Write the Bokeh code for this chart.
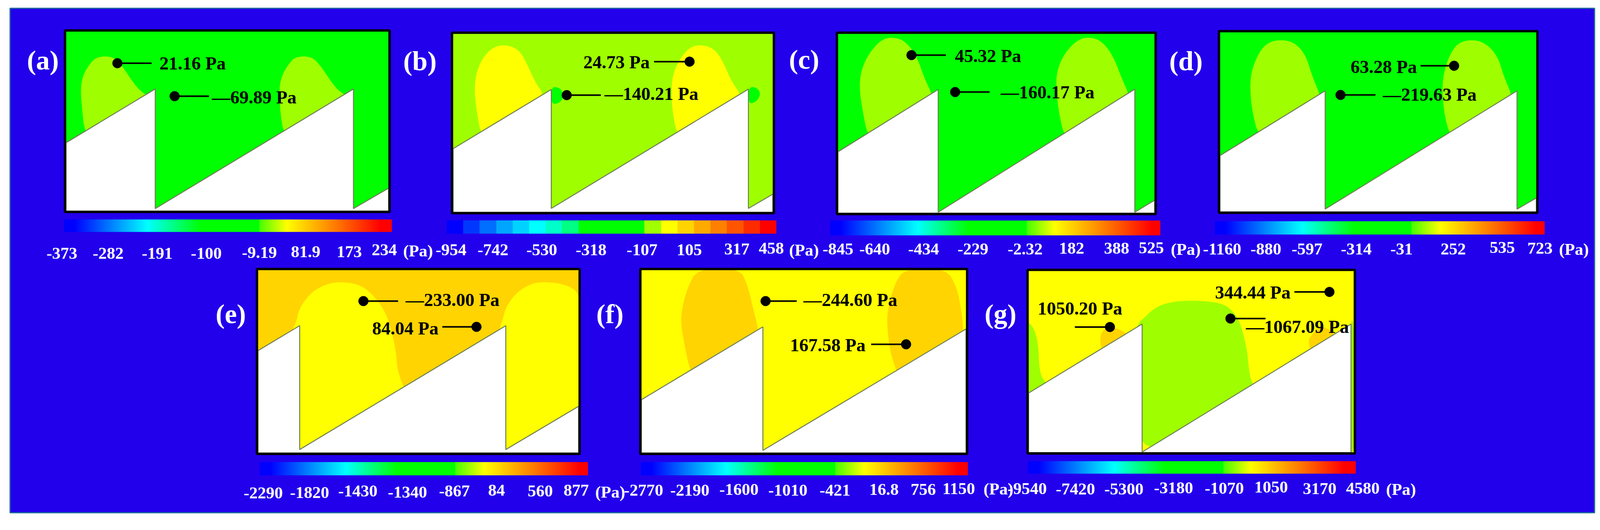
import numpy as np
from bokeh.embed import file_html
from bokeh.models import ColorBar, FixedTicker, LinearColorMapper, Range1d
from bokeh.plotting import figure
from bokeh.resources import INLINE

# contour outlines and label spots were traced off enlarged crops of the figure,
# every crop is 1568 x 1568 units, CROP_* = (left, top, width, height) in picture pixels
CROP_A = (0, 0, 1200, 700)
CROP_B = (1150, 0, 1100, 700)
CROP_C = (2150, 0, 1100, 700)
CROP_D = (3180, 0, 1197, 700)
CROP_E = (600, 680, 1100, 678)
CROP_F = (1600, 680, 1150, 678)
CROP_G = (2700, 680, 1200, 678)

GREEN = "#00ff00"
LIME = "#9fff00"
YELLOW = "#ffff00"
AMBER = "#ffd400"
BLUE = "#2200ec"

PANEL_NAMES = ["(a)", "(b)", "(c)", "(d)", "(e)", "(f)", "(g)"]
NAME_X = [73, 1100, 2153, 3191, 588, 1627, 2687]
NAME_Y = [156, 158, 154, 158, 816, 816, 816]

# (a)
A_BOX = (235, 1385, 182, 1228)
A_WALL_X = [235, 553, 553, 1260, 1260, 1385, 1385, 235]
A_WALL_Y = [830, 517, 1214, 517, 1214, 1095, 1228, 1228]
A_LOBES = [
    (LIME, [345, 405, 440, 470, 500, 530, 545, 380, 302, 290, 287, 295, 315], [328, 328, 395, 470, 530, 560, 700, 900, 790, 600, 510, 440, 380]),
    (LIME, [1053, 1113, 1148, 1178, 1208, 1240, 1252, 1090, 1012, 998, 995, 1005, 1025], [328, 328, 395, 470, 530, 560, 700, 900, 790, 640, 510, 440, 380]),
]
A_LABELS = ["21.16 Pa", "\u201469.89 Pa"]
A_LABEL_X = [568, 755]
A_LABEL_Y = [367, 565]
A_PROBE_X = [418, 622]
A_PROBE_Y = [367, 559]
A_LEAD_X = [540, 745]
A_TICKS = ["-373", "-282", "-191", "-100", "-9.19", "81.9", "173", "234", "(Pa)"]
A_TICK_X = [165, 330, 505, 680, 862, 1037, 1200, 1325, 1437]
A_TICK_Y = [1475, 1475, 1475, 1475, 1470, 1465, 1465, 1455, 1460]
A_BAR = (228, 1398, 1275, 1350)
A_STOPS = [0.254, 0.42, 0.595, 0.68, 0.967]

# (b)
B_BOX = (123, 1367, 195, 1235)
B_WALL_X = [123, 505, 505, 1272, 1272, 1367, 1367, 123]
B_WALL_Y = [865, 520, 1213, 518, 1213, 1130, 1235, 1235]
B_LOBES = [
    (YELLOW, [290, 345, 385, 410, 440, 475, 498, 300, 232, 215, 205, 215, 245], [263, 263, 300, 370, 470, 550, 700, 900, 790, 650, 520, 410, 320]),
    (YELLOW, [1055, 1110, 1150, 1180, 1205, 1245, 1265, 1060, 995, 975, 972, 985, 1015], [263, 263, 300, 380, 470, 555, 700, 900, 790, 640, 490, 400, 320]),
    (GREEN, [505, 535, 550, 552, 535, 505], [505, 508, 535, 570, 600, 607]),
    (GREEN, [1272, 1305, 1320, 1305, 1272], [505, 508, 545, 590, 607]),
]
B_LABELS = ["\u2014140.21 Pa", "24.73 Pa"]
B_LABEL_X = [712, 630]
B_LABEL_Y = [545, 360]
B_PROBE_X = [565, 1043]
B_PROBE_Y = [553, 358]
B_LEAD_X = [698, 905]
B_TICKS = ["-954", "-742", "-530", "-318", "-107", "105", "317", "458", "(Pa)"]
B_TICK_X = [55, 218, 408, 600, 798, 993, 1178, 1312, 1430]
B_TICK_Y = [1455, 1455, 1455, 1455, 1455, 1455, 1450, 1445, 1455]
B_BAR = (98, 1382, 1282, 1360)
B_BANDS = ["#0000ff", "#0037ff", "#006eff", "#00a5ff", "#00d2ff", "#00ffff", "#00ffc8", "#00ff82",
           "#00ff00", "#00ff00", "#00ff00", "#00ff00", "#a0ff00", "#ffff00", "#ffd400", "#ffaa00",
           "#ff8000", "#ff5500", "#ff2b00", "#ff0000"]

# (c)
C_BOX = (195, 1427, 195, 1240)
C_WALL_X = [195, 585, 585, 1350, 1350, 1427, 1427, 195]
C_WALL_Y = [883, 520, 1235, 518, 1235, 1165, 1240, 1240]
C_LOBES = [
    (LIME, [370, 430, 470, 505, 530, 565, 578, 380, 312, 290, 278, 285, 315], [220, 218, 260, 340, 450, 560, 700, 900, 800, 640, 510, 410, 310]),
    (LIME, [1135, 1195, 1235, 1270, 1295, 1330, 1343, 1140, 1077, 1055, 1045, 1045, 1075], [220, 218, 260, 340, 440, 560, 700, 900, 800, 660, 530, 420, 310]),
]
C_LABELS = ["45.32 Pa", "\u2014160.17 Pa"]
C_LABEL_X = [650, 828]
C_LABEL_Y = [325, 535]
C_PROBE_X = [481, 651]
C_PROBE_Y = [320, 535]
C_LEAD_X = [615, 785]
C_TICKS = ["-845", "-640", "-434", "-229", "-2.32", "182", "388", "525", "(Pa)"]
C_TICK_X = [135, 278, 468, 660, 855, 1055, 1230, 1365, 1490]
C_TICK_Y = [1450, 1450, 1450, 1450, 1450, 1445, 1445, 1442, 1450]
C_BAR = (165, 1450, 1282, 1370)
C_STOPS = [0.265, 0.42, 0.595, 0.68, 0.977]

# (d)
D_BOX = (196, 1327, 186, 1233)
D_WALL_X = [196, 572, 572, 1258, 1258, 1327, 1327, 196]
D_WALL_Y = [905, 528, 1217, 528, 1217, 1152, 1233, 1233]
D_LOBES = [
    (LIME, [375, 425, 470, 505, 525, 555, 565, 400, 333, 310, 303, 310, 340], [240, 230, 255, 330, 440, 555, 700, 900, 790, 640, 500, 400, 290]),
    (LIME, [1060, 1105, 1150, 1190, 1210, 1240, 1250, 1080, 1018, 995, 990, 1005, 1030], [240, 230, 255, 330, 440, 555, 700, 900, 795, 640, 480, 370, 280]),
]
D_LABELS = ["63.28 Pa", "\u2014219.63 Pa"]
D_LABEL_X = [663, 778]
D_LABEL_Y = [388, 550]
D_PROBE_X = [1033, 627]
D_PROBE_Y = [382, 552]
D_LEAD_X = [913, 752]
D_TICKS = ["-1160", "-880", "-597", "-314", "-31", "252", "535", "723", "(Pa)"]
D_TICK_X = [135, 305, 452, 628, 805, 985, 1160, 1295, 1408]
D_TICK_Y = [1450, 1450, 1450, 1450, 1450, 1450, 1440, 1445, 1450]
D_BAR = (178, 1358, 1287, 1365)
D_STOPS = [0.264, 0.425, 0.595, 0.684, 0.976]

# (e)
E_BOX = (148, 1395, 50, 1150)
E_WALL_X = [148, 310, 310, 1112, 1112, 1395, 1395, 148]
E_WALL_Y = [535, 385, 1130, 385, 1130, 870, 1150, 1150]
E_LOBES = [
    (YELLOW, [460, 540, 590, 640, 665, 685, 690, 715, 760, 400, 250, 250, 298, 305, 350, 405], [120, 135, 190, 290, 400, 540, 650, 760, 900, 1140, 1140, 500, 365, 290, 190, 140]),
    (YELLOW, [1260, 1340, 1395, 1405, 1405, 1200, 1060, 1060, 1098, 1110, 1150, 1205], [120, 135, 180, 300, 1140, 1140, 1140, 500, 365, 280, 190, 135]),
]
E_LABELS = ["\u2014233.00 Pa", "84.04 Pa"]
E_LABEL_X = [722, 592]
E_LABEL_Y = [228, 400]
E_PROBE_X = [558, 998]
E_PROBE_Y = [237, 392]
E_LEAD_X = [693, 865]
E_TICKS = ["-2290", "-1820", "-1430", "-1340", "-867", "84", "560", "877", "(Pa)"]
E_TICK_X = [92, 272, 460, 653, 852, 1043, 1197, 1337, 1460]
E_TICK_Y = [1390, 1388, 1380, 1385, 1380, 1375, 1380, 1375, 1385]
E_BAR = (155, 1432, 1205, 1285)
E_STOPS = [0.262, 0.42, 0.595, 0.685, 0.975]

# (f)
F_BOX = (205, 1413, 50, 1150)
F_WALL_X = [205, 657, 657, 1413, 1413, 205]
F_WALL_Y = [830, 392, 1135, 405, 1150, 1150]
F_LOBES = [
    (AMBER, [415, 570, 600, 622, 640, 650, 460, 385, 370, 352, 355, 375], [40, 40, 140, 290, 405, 600, 900, 650, 540, 380, 290, 160]),
    (AMBER, [1185, 1340, 1380, 1395, 1405, 1405, 1200, 1155, 1130, 1120, 1120, 1145], [40, 40, 160, 290, 420, 900, 900, 660, 540, 400, 300, 140]),
]
F_LABELS = ["\u2014244.60 Pa", "167.58 Pa"]
F_LABEL_X = [808, 758]
F_LABEL_Y = [228, 500]
F_PROBE_X = [667, 1190]
F_PROBE_Y = [237, 497]
F_LEAD_X = [783, 1060]
F_TICKS = ["-2770", "-2190", "-1600", "-1010", "-421", "16.8", "756", "1150", "(Pa)"]
F_TICK_X = [140, 312, 495, 677, 868, 1053, 1207, 1325, 1478]
F_TICK_Y = [1375, 1375, 1370, 1375, 1375, 1370, 1370, 1365, 1365]
F_BAR = (203, 1420, 1205, 1285)
F_STOPS = [0.26, 0.42, 0.593, 0.683, 0.97]

# (g)
G_BOX = (140, 1300, 55, 1148)
G_WALL_X = [140, 545, 545, 1290, 1290, 140]
G_WALL_Y = [790, 375, 1145, 375, 1148, 1148]
G_LOBES = [
    (LIME, [545, 590, 650, 740, 830, 865, 890, 905, 920, 925, 935, 1000, 800, 500, 500, 535], [350, 275, 240, 232, 250, 290, 350, 430, 540, 640, 730, 900, 1140, 1140, 500, 360]),
    (LIME, [130, 160, 175, 178, 195, 260, 130], [350, 400, 500, 650, 725, 800, 900]),
    (LIME, [1302, 1285, 1285, 1302], [335, 380, 1160, 1160]),
    (AMBER, [400, 430, 470, 520, 450, 400, 395], [420, 390, 410, 470, 560, 530, 470]),
    (AMBER, [1150, 1185, 1240, 1260, 1180, 1143, 1138], [440, 380, 440, 600, 600, 530, 470]),
]
G_LABELS = ["1050.20 Pa", "344.44 Pa", "\u20141067.09 Pa"]
G_LABEL_X = [172, 805, 915]
G_LABEL_Y = [280, 185, 392]
G_PROBE_X = [430, 1213, 860]
G_PROBE_Y = [393, 182, 342]
G_LEAD_X = [305, 1088, 985]
G_TICKS = ["-9540", "-7420", "-5300", "-3180", "-1070", "1050", "3170", "4580", "(Pa)"]
G_TICK_X = [65, 237, 410, 587, 768, 945, 1118, 1272, 1415]
G_TICK_Y = [1365, 1368, 1368, 1360, 1362, 1355, 1365, 1362, 1368]
G_BAR = (138, 1308, 1198, 1275)
G_STOPS = [0.262, 0.42, 0.596, 0.68, 0.967]

PANELS = [
    (CROP_A, A_BOX, GREEN, A_WALL_X, A_WALL_Y, A_LOBES, A_LABELS, A_LABEL_X, A_LABEL_Y, A_PROBE_X, A_PROBE_Y, A_LEAD_X, A_TICKS, A_TICK_X, A_TICK_Y, A_BAR, A_STOPS),
    (CROP_B, B_BOX, LIME, B_WALL_X, B_WALL_Y, B_LOBES, B_LABELS, B_LABEL_X, B_LABEL_Y, B_PROBE_X, B_PROBE_Y, B_LEAD_X, B_TICKS, B_TICK_X, B_TICK_Y, B_BAR, None),
    (CROP_C, C_BOX, GREEN, C_WALL_X, C_WALL_Y, C_LOBES, C_LABELS, C_LABEL_X, C_LABEL_Y, C_PROBE_X, C_PROBE_Y, C_LEAD_X, C_TICKS, C_TICK_X, C_TICK_Y, C_BAR, C_STOPS),
    (CROP_D, D_BOX, GREEN, D_WALL_X, D_WALL_Y, D_LOBES, D_LABELS, D_LABEL_X, D_LABEL_Y, D_PROBE_X, D_PROBE_Y, D_LEAD_X, D_TICKS, D_TICK_X, D_TICK_Y, D_BAR, D_STOPS),
    (CROP_E, E_BOX, AMBER, E_WALL_X, E_WALL_Y, E_LOBES, E_LABELS, E_LABEL_X, E_LABEL_Y, E_PROBE_X, E_PROBE_Y, E_LEAD_X, E_TICKS, E_TICK_X, E_TICK_Y, E_BAR, E_STOPS),
    (CROP_F, F_BOX, YELLOW, F_WALL_X, F_WALL_Y, F_LOBES, F_LABELS, F_LABEL_X, F_LABEL_Y, F_PROBE_X, F_PROBE_Y, F_LEAD_X, F_TICKS, F_TICK_X, F_TICK_Y, F_BAR, F_STOPS),
    (CROP_G, G_BOX, YELLOW, G_WALL_X, G_WALL_Y, G_LOBES, G_LABELS, G_LABEL_X, G_LABEL_Y, G_PROBE_X, G_PROBE_Y, G_LEAD_X, G_TICKS, G_TICK_X, G_TICK_Y, G_BAR, G_STOPS),
]

# the browser only shows this much of the window, so the whole traced picture is fitted into it
REF_W = 4377
REF_H = 1358
PAGE_W = 4105
PAGE_H = 1338


def crop_x(xs, crop):
    return [crop[0] + x * crop[2] / 1568 for x in xs]


def crop_y(ys, crop):
    return [crop[1] + y * crop[3] / 1568 for y in ys]


def round_off(xs, ys, passes=2):
    """corner cutting, the traced contours are smooth curves in the original"""
    xs, ys = np.array(xs, float), np.array(ys, float)
    for _ in range(passes):
        nx, ny = np.roll(xs, -1), np.roll(ys, -1)
        xs = np.column_stack([0.75 * xs + 0.25 * nx, 0.25 * xs + 0.75 * nx]).ravel()
        ys = np.column_stack([0.75 * ys + 0.25 * ny, 0.25 * ys + 0.75 * ny]).ravel()
    return xs.tolist(), ys.tolist()


def bar_palette(stops):
    """rainbow of the solver's legend, with the flat green stretch and the step after it"""
    cyan, green, flat_end, yellow, red = stops
    pos = [0, 0.03, cyan, green, flat_end, flat_end + 0.001, yellow, red, 1]
    reds = [0, 0, 0, 0, 0, 70, 255, 255, 255]
    greens = [0, 0, 255, 255, 255, 255, 255, 0, 0]
    blues = [255, 255, 255, 0, 0, 0, 0, 0, 0]
    t = np.linspace(0, 1, 512)
    r = np.interp(t, pos, reds).astype(int)
    g = np.interp(t, pos, greens).astype(int)
    b = np.interp(t, pos, blues).astype(int)
    return ["#%02x%02x%02x" % (i, j, k) for i, j, k in zip(r, g, b)]


p = figure(width=PAGE_W, height=PAGE_H, output_backend="svg", toolbar_location=None,
           x_range=Range1d(0, REF_W), y_range=Range1d(REF_H, 0), min_border=0)
p.axis.visible = False
p.grid.visible = False
p.outline_line_color = None
p.background_fill_color = "white"
p.border_fill_color = "white"

# blue backing sheet
p.quad(left=[27], right=[4352], top=[21], bottom=[1333], fill_color=BLUE, line_color="#1f6a9a", line_width=3)

for crop, box, base, wall_x, wall_y, lobes, labels, label_x, label_y, probe_x, probe_y, lead_x, ticks, tick_x, tick_y, bar, stops in PANELS:
    left, right = crop_x(box[:2], crop)
    top, bottom = crop_y(box[2:], crop)
    p.quad(left=[left], right=[right], top=[top], bottom=[bottom], fill_color=base, line_color=None)

    for color, xs, ys in lobes:
        sx, sy = round_off(crop_x(xs, crop), crop_y(ys, crop))
        p.patch(sx, sy, fill_color=color, line_color=None)

    # mask what runs over the frame, some contours leave the box
    p.quad(left=[left - 12, right], right=[left, right + 12], top=[top - 12, top - 12],
           bottom=[bottom + 12, bottom + 12], fill_color=BLUE, line_color=None)
    p.quad(left=[left], right=[right], top=[top - 12], bottom=[top], fill_color=BLUE, line_color=None)

    p.patch(crop_x(wall_x, crop), crop_y(wall_y, crop), fill_color="white", line_color="#6f7f55", line_width=2.5)
    p.quad(left=[left - 3], right=[right + 3], top=[top - 2.5], bottom=[bottom + 2.5],
           fill_color=None, line_color="black", line_width=6)

    # probes with their leader and reading
    px = crop_x(probe_x, crop)
    py = crop_y(probe_y, crop)
    p.segment(px, py, crop_x(lead_x, crop), py, line_color="black", line_width=4)
    p.scatter(px, py, size=25, color="black")
    p.text(crop_x(label_x, crop), crop_y(label_y, crop), text=labels, text_color="black",
           text_font="Liberation Serif", text_font_style="bold", text_font_size="47px",
           text_align="left", text_baseline="middle")

    # legend bar
    bar_left, bar_right = crop_x(bar[:2], crop)
    bar_top, bar_bottom = crop_y(bar[2:], crop)
    low = float(ticks[0])
    high = float(ticks[-2])
    palette = bar_palette(stops) if stops else B_BANDS
    mapper = LinearColorMapper(palette=palette, low=low, high=high)
    cb = ColorBar(color_mapper=mapper, orientation="horizontal", ticker=FixedTicker(ticks=[]),
                  location=(bar_left * PAGE_W / REF_W, (REF_H - bar_bottom) * PAGE_H / REF_H),
                  width=int((bar_right - bar_left) * PAGE_W / REF_W),
                  height=int((bar_bottom - bar_top) * PAGE_H / REF_H), padding=0,
                  margin=0, major_tick_line_color=None, minor_tick_line_color=None,
                  bar_line_color=None, border_line_color=None, background_fill_alpha=0)
    p.add_layout(cb)

    p.text(crop_x(tick_x, crop), crop_y(tick_y, crop), text=ticks, text_color="white",
           text_font="Liberation Serif", text_font_style="bold", text_font_size="43px",
           text_align="left", text_baseline="middle")

p.text(NAME_X, NAME_Y, text=PANEL_NAMES, text_color="white", text_font="Liberation Serif",
       text_font_style="bold", text_font_size="70px", text_align="left", text_baseline="middle")

open("out.html", "w").write(file_html(p, INLINE))
